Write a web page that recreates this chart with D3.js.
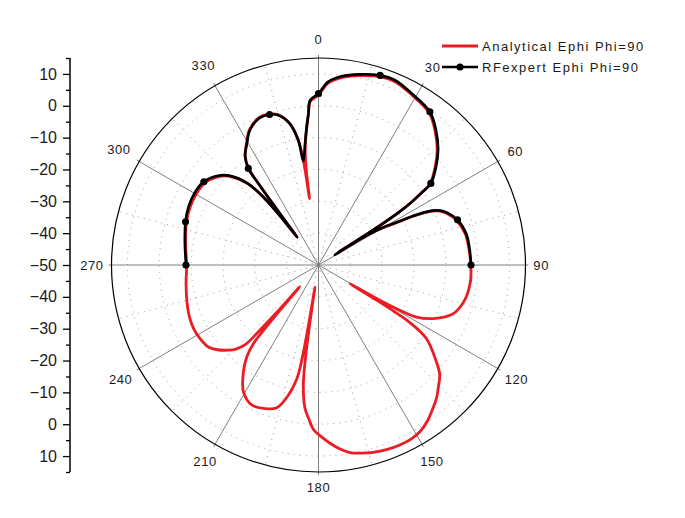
<!DOCTYPE html>
<html>
<head>
<meta charset="utf-8">
<script src="https://cdn.jsdelivr.net/npm/d3@7"></script>
<style>
  body { margin: 0; background: #fff; }
  text { font-family: "Liberation Sans", Arial, sans-serif; }
</style>
</head>
<body>
<div id="chart"></div>
<script>
// angle (deg, clockwise from top) / value pairs
const analyticalAngles = [0, 3, 7, 12, 18, 22.5, 28.5, 36, 41, 46, 50, 54, 55, 56, 56.8, 57.4, 57.9, 58.6, 60, 61.4, 62.5, 64.4, 66, 68, 72, 78, 84, 90,
  96, 103.5, 110, 115, 118, 119.1, 119.9, 120.7, 121.2, 121.6, 122.2, 124.3, 129.4, 132, 135.9, 138.5, 141.4, 145, 148.7, 152, 155.7,
  159.5, 163.7, 167, 170.5, 173.5, 176.3, 179, 181.8, 183.5, 185.4, 187.2, 187.9, 188.3, 188.6, 189, 189.4, 189.7, 190.1, 190.8, 193,
  196.3, 200.4, 205.5, 210.6, 215.1, 218, 219.6, 220.2, 220.8, 221.4, 222, 222.6, 224.5, 226.6, 230, 233.3, 238, 243, 248, 254.3, 262,
  270, 280, 288, 294, 300, 306, 312, 315, 319, 321, 322, 322.5, 323, 323.3, 323.6, 324, 326, 329.5, 333, 338, 342, 345, 348.5, 350.8,
  351.6, 352, 352.3, 352.6, 353.1, 353.8, 355.1, 356.2, 357.1];
const analyticalValues = [3.4, 7.2, 9.3, 10.8, 12.2, 12.4, 11.0, 9.1, 5.8, 1.8, -2.2, -6.8, -10.8, -15.3, -21, -30, -43, -32, -26.5, -22.5, -17.5, -11, -8.4, -6.7, -4.5, -2.9, -2.5, -2.2,
  -2.0, -2.8, -5.1, -10.2, -15.2, -20.8, -27.8, -38.5, -29, -22, -16.2, -9, -2.1, 1.2, 4, 5.9, 7.6, 9.7, 11.3, 11.9, 12,
  11.8, 11.3, 10.6, 9.7, 8.1, 6.1, 4.0, 1.6, -1.4, -4.8, -12, -19.3, -27.7, -35, -43, -33, -24, -18, -13.5, -8.1,
  -3.3, -1.9, -1.3, -3.7, -9, -13.5, -18, -27, -41, -30, -22, -16, -13, -11.1, -8.6, -6.9, -6.2, -6, -6.3, -7.1, -8,
  -8.6, -7.6, -6.4, -5.8, -5.6, -6.0, -8.4, -10.6, -16.2, -23, -31, -39, -33, -25, -18, -12.8, -8.8, -5.5, -2.3, -0.1, -0.2, -1.2, -4.6, -10.2,
  -15, -21, -29, -21, -15.5, -11.8, -6.7, -2.6, 1.4];

const rfexpertAngles = [270, 280, 288, 294, 300, 306, 312, 315, 319, 321, 322, 322.5, 323, 323.3, 323.6, 324, 326, 329.5, 333, 338, 342,
  345, 348.5, 350.8, 351.7, 353.7, 355.1, 356.2, 357.1, 360, 363, 367, 372, 378, 382.5, 388.5, 396, 401, 406, 410, 414, 415, 416,
  416.8, 417.4, 417.9, 418.6, 420, 421.4, 422.5, 424.4, 426, 428, 432, 438, 444, 450];
const rfexpertValues = [-8.4, -7.4, -6.1, -5.3, -5.0, -5.5, -8.0, -10.3, -15.9, -22.8, -31, -39, -33, -25, -18, -12.5, -8.8, -5.7, -2.5, -0.3, -0.3,
  -1.3, -4.7, -10.3, -17, -11.6, -6.5, -2.3, 1.8, 3.8, 7.6, 9.7, 11.2, 12.6, 12.8, 11.3, 9.5, 6.2, 2.2, -1.8, -6.4, -10.5, -15,
  -20.5, -30, -44, -32, -26, -22, -17, -10.5, -8, -6.3, -4.1, -2.6, -2.3, -2.1];
const markerStep = 18;

const angleTicks = d3.range(0, 360, 30);
const radialTicks = [-50, -40, -30, -20, -10, 0, 10];
const radialMinor = [-45, -35, -25, -15, -5, 5, 15];

const seriesNames = ["Analytical Ephi Phi=90", "RFexpert Ephi Phi=90"];
const seriesColors = ["#ec1c24", "#000000"];

const w = 685, h = 518;
const cx = 318.5, cy = 265, R = 207;

const svg = d3.select("#chart").append("svg")
  .attr("width", w)
  .attr("height", h);

const r = d3.scaleLinear().domain([-50, 15]).range([0, R]);
const rad = a => a * Math.PI / 180;

const g = svg.append("g").attr("transform", `translate(${cx},${cy})`);

// dotted grid
g.selectAll(".ring")
  .data(radialTicks.slice(1))
  .enter().append("circle")
  .attr("r", d => r(d))
  .attr("fill", "none")
  .attr("stroke", "#999")
  .attr("stroke-width", 1)
  .attr("stroke-dasharray", "1,5");

g.selectAll(".minorSpoke")
  .data(d3.range(15, 360, 30))
  .enter().append("line")
  .attr("x2", d => R * Math.sin(rad(d)))
  .attr("y2", d => -R * Math.cos(rad(d)))
  .attr("stroke", "#999")
  .attr("stroke-dasharray", "1,5");

// main spokes
g.selectAll(".spoke")
  .data(angleTicks)
  .enter().append("line")
  .attr("x2", d => (R + 3) * Math.sin(rad(d)))
  .attr("y2", d => -(R + 3) * Math.cos(rad(d)))
  .attr("stroke", "#808080")
  .attr("stroke-width", 1);

g.append("circle")
  .attr("r", R)
  .attr("fill", "none")
  .attr("stroke", "#000")
  .attr("stroke-width", 1.2);

// angle labels
function labelOffset(d) {
  const wid = String(d).length * 7.7;
  const c = Math.cos(rad(d));
  return R + 8 + Math.abs(Math.sin(rad(d))) * wid / 2 + Math.abs(c) * 7 + (c > 0 ? c * 4 : 0);
}

g.selectAll(".alabel")
  .data(angleTicks)
  .enter().append("text")
  .attr("x", d => labelOffset(d) * Math.sin(rad(d)))
  .attr("y", d => -labelOffset(d) * Math.cos(rad(d)))
  .attr("dy", "0.36em")
  .attr("text-anchor", "middle")
  .style("font-size", "13px")
  .style("letter-spacing", "0.6px")
  .attr("fill", "#1a1a1a")
  .text(d => d);

// curves
const analytical = analyticalAngles.map((a, i) => [a, analyticalValues[i]]);
const rfexpert = rfexpertAngles.map((a, i) => [a, rfexpertValues[i]]);

const closedLine = d3.lineRadial()
  .angle(d => rad(d[0]))
  .radius(d => r(d[1]))
  .curve(d3.curveCatmullRomClosed.alpha(0.5));

const openLine = d3.lineRadial()
  .angle(d => rad(d[0]))
  .radius(d => r(d[1]))
  .curve(d3.curveCatmullRom.alpha(0.5));

g.append("path")
  .datum(analytical)
  .attr("d", closedLine)
  .attr("fill", "none")
  .attr("stroke", seriesColors[0])
  .attr("stroke-width", 2.8)
  .attr("stroke-linejoin", "round");

g.append("path")
  .datum(rfexpert)
  .attr("d", openLine)
  .attr("fill", "none")
  .attr("stroke", seriesColors[1])
  .attr("stroke-width", 2.7)
  .attr("stroke-linejoin", "round");

const dot = d3.symbol().type(d3.symbolCircle).size(40);

g.selectAll(".marker")
  .data(rfexpert.filter(d => d[0] % markerStep === 0))
  .enter().append("path")
  .attr("d", dot)
  .attr("transform", d => `translate(${r(d[1]) * Math.sin(rad(d[0]))},${-r(d[1]) * Math.cos(rad(d[0]))})`)
  .attr("fill", "#000");

// left radial axis, mirrored above and below the centre
const yTop = d3.scaleLinear().domain([-50, 15]).range([cy, cy - R]);
const yBot = d3.scaleLinear().domain([-50, 15]).range([cy, cy + R]);
const axisX = 70;

function styleAxis(sel) {
  sel.select(".domain").remove();
  sel.selectAll(".tick line").attr("stroke", "#000").attr("stroke-width", 1.3);
  sel.selectAll(".tick text")
    .style("font-size", "16px")
    .style("font-family", "'Liberation Sans', Arial, sans-serif")
    .attr("fill", "#1a1a1a");
}

svg.append("g")
  .attr("transform", `translate(${axisX},0)`)
  .call(d3.axisLeft(yTop).tickValues(radialTicks).tickSize(7).tickPadding(6))
  .call(styleAxis);

svg.append("g")
  .attr("transform", `translate(${axisX},0)`)
  .call(d3.axisLeft(yBot).tickValues(radialTicks.slice(1)).tickSize(7).tickPadding(6))
  .call(styleAxis);

svg.append("g")
  .attr("transform", `translate(${axisX},0)`)
  .call(d3.axisLeft(yTop).tickValues(radialMinor).tickSize(4).tickFormat(""))
  .call(styleAxis);

svg.append("g")
  .attr("transform", `translate(${axisX},0)`)
  .call(d3.axisLeft(yBot).tickValues(radialMinor).tickSize(4).tickFormat(""))
  .call(styleAxis);

svg.append("line")
  .attr("x1", axisX).attr("x2", axisX)
  .attr("y1", cy - R).attr("y2", cy + R)
  .attr("stroke", "#000")
  .attr("stroke-width", 1.5);

// legend
const legend = svg.append("g").attr("transform", "translate(442,46)");
seriesNames.forEach((name, i) => {
  const row = legend.append("g").attr("transform", `translate(0,${i * 21})`);
  row.append("line")
    .attr("x1", 0).attr("x2", 36)
    .attr("stroke", seriesColors[i])
    .attr("stroke-width", i === 0 ? 3 : 2.6);
  if (i === 1) {
    row.append("path").attr("d", dot).attr("transform", "translate(18,0)").attr("fill", "#000");
  }
  row.append("text")
    .attr("x", 40)
    .attr("y", 5)
    .style("font-size", "13px")
    .style("letter-spacing", "1.5px")
    .attr("fill", "#1a1a1a")
    .text(name);
});
</script>
</body>
</html>
